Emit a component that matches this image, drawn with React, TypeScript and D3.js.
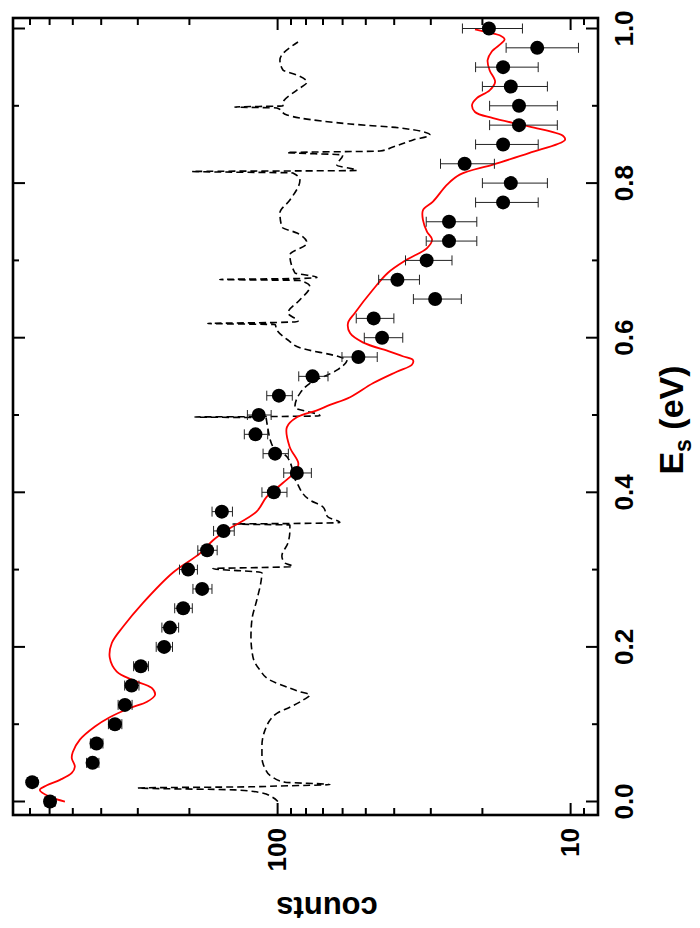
import React, { useRef, useEffect } from 'react';
import * as d3 from 'd3';

// measured spectrum (E in eV, counts with sqrt(N)-like errors)
const energy = [0, 0.025, 0.05, 0.075, 0.1, 0.125, 0.15, 0.175, 0.2, 0.225, 0.25, 0.275, 0.3, 0.325, 0.35, 0.375,
  0.4, 0.425, 0.45, 0.475, 0.5, 0.525, 0.55, 0.575, 0.6, 0.625, 0.65, 0.675, 0.7, 0.725, 0.75, 0.775, 0.8,
  0.825, 0.85, 0.875, 0.9, 0.925, 0.95, 0.975, 1.0];
const counts = [598, 688, 428, 415, 359, 332, 315, 293, 244, 233, 210, 181, 202, 174, 153, 155,
  103, 86, 102, 119, 116, 99, 76, 53, 44, 47, 29, 39, 31, 26, 26, 17, 16,
  23, 17, 15, 15, 16, 17, 13, 19];
const countErrors = [24.5, 26.2, 20.7, 20.4, 18.9, 18.2, 17.7, 17.1, 15.6, 15.3, 14.5, 13.5, 14.2, 13.2, 12.4, 12.4,
  10.1, 9.3, 10.1, 10.9, 10.8, 9.9, 8.7, 7.3, 6.6, 6.9, 5.4, 6.2, 5.6, 5.1, 5.1, 4.1, 4.0,
  4.8, 4.1, 3.9, 3.9, 4.0, 4.1, 3.6, 4.4];

// red model curve
const modelE = [0.0, 0.006, 0.015, 0.021, 0.028, 0.037, 0.045, 0.056, 0.064, 0.08, 0.097, 0.109, 0.121, 0.129,
  0.138, 0.147, 0.157, 0.168, 0.186, 0.205, 0.226, 0.257, 0.296, 0.321, 0.338, 0.351, 0.375, 0.394, 0.412,
  0.429, 0.438, 0.459, 0.484, 0.497, 0.506, 0.513, 0.523, 0.541, 0.556, 0.565, 0.571, 0.576, 0.582, 0.594,
  0.606, 0.619, 0.632, 0.662, 0.684, 0.701, 0.716, 0.727, 0.737, 0.752, 0.765, 0.776, 0.798, 0.811, 0.824,
  0.839, 0.856, 0.861, 0.873, 0.884, 0.892, 0.901, 0.91, 0.92, 0.931, 0.946, 0.959, 0.97, 0.981, 0.986,
  0.991, 0.995, 0.999];
const modelCounts = [532, 598, 648, 613, 553, 504, 492, 504, 500, 473, 420, 374, 319, 279,
  262, 269, 312, 354, 374, 368, 337, 288, 228, 184, 166, 149, 118, 109, 96,
  86, 85, 91, 93, 86, 73.4, 66.3, 56.6, 47.3, 39.2, 34.8, 34.5, 37.4, 41.4, 51.2,
  56.6, 57.5, 54.5, 47.3, 42.0, 36.2, 30.9, 29.7, 30.9, 31.9, 31.9, 29.5, 26.4, 23.9, 18.4,
  13.8, 10.45, 10.6, 13.8, 18.4, 21.2, 21.7, 20.9, 18.9, 18.1, 18.9, 19.2, 18.6, 17.2, 16.8,
  17.4, 19.2, 21.2];

// dashed component with narrow lines
const partE = [0.0, 0.006, 0.011, 0.015, 0.0175, 0.019, 0.02, 0.022, 0.025, 0.032, 0.043, 0.058, 0.072, 0.092,
  0.114, 0.122, 0.131, 0.138, 0.142, 0.148, 0.157, 0.17, 0.187, 0.213, 0.235, 0.261, 0.284, 0.296,
  0.3014, 0.3027, 0.304, 0.3085, 0.3176, 0.3344, 0.3512, 0.3577, 0.359, 0.3596, 0.361, 0.368, 0.381, 0.39,
  0.412, 0.446, 0.459, 0.49, 0.4965, 0.4974, 0.498, 0.499, 0.51, 0.528, 0.541, 0.558, 0.571, 0.575,
  0.587, 0.597, 0.61, 0.617, 0.6184, 0.6197, 0.621, 0.632, 0.649, 0.666, 0.674, 0.6753, 0.6766, 0.678,
  0.684, 0.707, 0.7225, 0.7354, 0.7432, 0.7613, 0.7781, 0.804, 0.8131, 0.815, 0.8163, 0.8234, 0.8364,
  0.8395, 0.8415, 0.8467, 0.8558, 0.8622, 0.8713, 0.8765, 0.8842, 0.8881, 0.8972, 0.8985, 0.8998, 0.9036,
  0.9204, 0.9308, 0.9398, 0.9463, 0.9593, 0.9825];
const partCounts = [99.8, 104.6, 113.1, 139.9, 300, 124.3, 99.8, 66.3, 94.4, 104.6, 110.5, 113.1, 113.1, 110.5,
  100.6, 90.8, 82.0, 77.6, 83.9, 92.9, 106.2, 114.9, 121.4, 123.3, 122.4, 117.7, 114.0, 113.1,
  166.3, 113.1, 88.7, 94.4, 96.7, 92.2, 90.8, 90.8, 142.1, 90.8, 61.3, 67.3, 70.0, 77.6,
  85.9, 92.9, 103.8, 108.8, 109.6, 191.6, 107.9, 71.7, 87.3, 83.9, 77.6, 62.8, 58.0, 61.3,
  83.9, 92.2, 100.6, 102, 172.9, 99.8, 85.2, 92.2, 83.9, 77.6, 84, 157.4, 84, 73.4,
  87.3, 90.8, 79.4, 85.9, 96.7, 98.2, 90.8, 83.9, 88.7, 196, 53.6, 62.8, 59.9,
  92.9, 44.7, 40.4, 34.5, 30.2, 38.2, 56.6, 83.9, 92.9, 100.6, 139.9, 95.9, 95.9,
  85.9, 79.4, 85.9, 95.9, 98.2, 85.2];

const eMajorTicks = [0, 0.2, 0.4, 0.6, 0.8, 1.0];
const eMinorTicks = [0.1, 0.3, 0.5, 0.7, 0.9];
const eTickLabels = ['0.0', '0.2', '0.4', '0.6', '0.8', '1.0'];
const countMajorTicks = [10, 100];
const countMinorTicks = [9, 20, 30, 40, 50, 60, 70, 80, 90, 200, 300, 400, 500, 600, 700];
const countTickLabels = ['10', '100'];

const FONT = 'Liberation Sans, Arial, sans-serif';

export default function App() {
  const ref = useRef<SVGSVGElement>(null);

  useEffect(() => {
    const svg = d3.select(ref.current);
    svg.selectAll('*').remove();

    // plot is drawn turned on its side: energy runs up, counts run leftwards
    const left = 13, right = 598, top = 18, bottom = 815;
    const x = d3.scaleLog().domain([800, 8]).range([13, 599]);
    const y = d3.scaleLinear().domain([0, 1]).range([801.5, 28.5]);

    svg.append('defs').append('clipPath').attr('id', 'plotclip')
      .append('rect').attr('x', left).attr('y', top).attr('width', right - left).attr('height', bottom - top);

    const plot = svg.append('g').attr('clip-path', 'url(#plotclip)');

    // dashed component
    const partData = partE.map((e, i) => ({ e, c: partCounts[i] }));
    plot.append('path')
      .datum(partData)
      .attr('d', d3.line<any>().x(d => x(d.c)).y(d => y(d.e)).curve(d3.curveMonotoneY))
      .attr('fill', 'none')
      .attr('stroke', '#000')
      .attr('stroke-width', 1.6)
      .attr('stroke-dasharray', '7,4');

    // model curve
    const modelData = modelE.map((e, i) => ({ e, c: modelCounts[i] }));
    plot.append('path')
      .datum(modelData)
      .attr('d', d3.line<any>().x(d => x(d.c)).y(d => y(d.e)).curve(d3.curveCatmullRom.alpha(0.5)))
      .attr('fill', 'none')
      .attr('stroke', '#ff0000')
      .attr('stroke-width', 1.8);

    // error bars
    const pts = energy.map((e, i) => ({ e, c: counts[i], err: countErrors[i] }));
    const bars = plot.append('g').attr('stroke', '#222').attr('stroke-width', 1);
    pts.forEach(d => {
      const x0 = x(d.c + d.err), x1 = x(d.c - d.err), yy = y(d.e);
      bars.append('line').attr('x1', x0).attr('x2', x1).attr('y1', yy).attr('y2', yy);
      bars.append('line').attr('x1', x0).attr('x2', x0).attr('y1', yy - 5).attr('y2', yy + 5);
      bars.append('line').attr('x1', x1).attr('x2', x1).attr('y1', yy - 5).attr('y2', yy + 5);
    });

    // data points
    plot.append('g').selectAll('circle')
      .data(pts)
      .join('circle')
      .attr('cx', d => x(d.c))
      .attr('cy', d => y(d.e))
      .attr('r', 7)
      .attr('fill', '#000');

    // ticks
    const ticks = svg.append('g').attr('stroke', '#000').attr('stroke-width', 2);
    const eTick = (v: number, len: number) => {
      ticks.append('line').attr('x1', left).attr('x2', left + len).attr('y1', y(v)).attr('y2', y(v));
      ticks.append('line').attr('x1', right).attr('x2', right - len).attr('y1', y(v)).attr('y2', y(v));
    };
    eMajorTicks.forEach(v => eTick(v, 12));
    eMinorTicks.forEach(v => eTick(v, 6));
    const cTick = (v: number, len: number) => {
      ticks.append('line').attr('y1', bottom).attr('y2', bottom - len).attr('x1', x(v)).attr('x2', x(v));
      ticks.append('line').attr('y1', top).attr('y2', top + len).attr('x1', x(v)).attr('x2', x(v));
    };
    countMajorTicks.forEach(v => cTick(v, 12));
    countMinorTicks.forEach(v => cTick(v, 7));

    // frame
    svg.append('rect')
      .attr('x', left).attr('y', top).attr('width', right - left).attr('height', bottom - top)
      .attr('fill', 'none').attr('stroke', '#000').attr('stroke-width', 2.6);

    // tick labels, rotated so they read bottom to top
    eMajorTicks.forEach((v, i) => {
      svg.append('text')
        .attr('transform', `translate(633,${y(v)}) rotate(-90)`)
        .attr('text-anchor', 'middle')
        .attr('font-family', FONT).attr('font-weight', 'bold').attr('font-size', 26)
        .text(eTickLabels[i]);
    });
    countMajorTicks.forEach((v, i) => {
      svg.append('text')
        .attr('transform', `translate(${x(v) + 8.5},828) rotate(-90)`)
        .attr('text-anchor', 'end')
        .attr('font-family', FONT).attr('font-weight', 'bold').attr('font-size', 26)
        .text(countTickLabels[i]);
    });

    // axis titles
    const eTitle = svg.append('text')
      .attr('transform', 'translate(683,420) rotate(-90)')
      .attr('text-anchor', 'middle')
      .attr('font-family', FONT).attr('font-weight', 'bold').attr('font-size', 34);
    eTitle.append('tspan').text('E');
    eTitle.append('tspan').attr('dy', 8).attr('font-size', 23).text('s');
    eTitle.append('tspan').attr('dy', -8).text(' (eV)');

    svg.append('text')
      .attr('transform', 'translate(327,897) rotate(180)')
      .attr('text-anchor', 'middle')
      .attr('font-family', FONT).attr('font-weight', 'bold').attr('font-size', 31)
      .text('counts');
  }, []);

  return (
    <svg ref={ref} width={700} height={928}
      style={{ position: 'absolute', left: 0, top: 0, background: '#fff' }} />
  );
}
